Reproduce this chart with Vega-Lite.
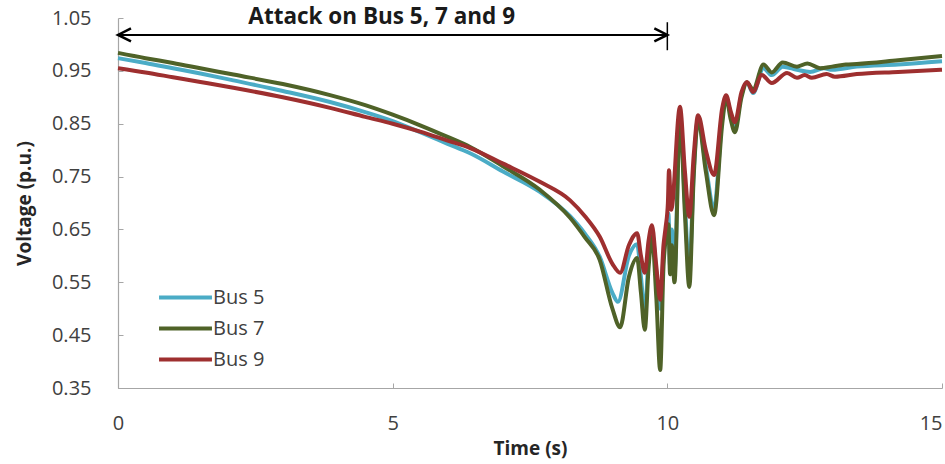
{
  "$schema": "https://vega.github.io/schema/vega-lite/v6.json",
  "width": 824,
  "height": 370,
  "autosize": {"type": "none"},
  "padding": {"left": 118, "top": 18, "right": 3, "bottom": 76},
  "background": "white",
  "config": {
    "view": {"stroke": null},
    "font": "Open Sans",
    "axis": {
      "grid": false,
      "labelFont": "Open Sans",
      "labelFontSize": 20,
      "labelColor": "#404040",
      "labelFlush": false,
      "domainColor": "#A6A6A6",
      "tickColor": "#A6A6A6",
      "domainWidth": 1.2,
      "tickSize": -5,
      "titleFont": "Open Sans",
      "titleFontSize": 19,
      "titleFontWeight": "bold",
      "titleColor": "#262626"
    },
    "legend": {
      "orient": "none",
      "legendX": 52,
      "legendY": 264,
      "padding": 0,
      "labelFont": "Open Sans",
      "labelFontSize": 20,
      "labelColor": "#404040",
      "symbolType": "M-2,0H2",
      "symbolSize": 700,
      "symbolStrokeWidth": 4,
      "symbolFillColor": "transparent",
      "rowPadding": 5,
      "labelOffset": 12
    }
  },
  "datasets": {
    "volt": [
      {"s":"Bus 5","t":0,"v":0.974},{"s":"Bus 5","t":0.5,"v":0.965},{"s":"Bus 5","t":1,"v":0.955},{"s":"Bus 5","t":1.5,"v":0.945},{"s":"Bus 5","t":2.1,"v":0.932},{"s":"Bus 5","t":3,"v":0.912},{"s":"Bus 5","t":3.86,"v":0.891},{"s":"Bus 5","t":4.5,"v":0.872},{"s":"Bus 5","t":5,"v":0.855},{"s":"Bus 5","t":5.5,"v":0.834},{"s":"Bus 5","t":6,"v":0.812},{"s":"Bus 5","t":6.41,"v":0.794},{"s":"Bus 5","t":7,"v":0.76},{"s":"Bus 5","t":7.68,"v":0.721},{"s":"Bus 5","t":8.23,"v":0.675},{"s":"Bus 5","t":8.5,"v":0.642},{"s":"Bus 5","t":8.77,"v":0.598},{"s":"Bus 5","t":9.0,"v":0.53},{"s":"Bus 5","t":9.1,"v":0.513},{"s":"Bus 5","t":9.3,"v":0.6},{"s":"Bus 5","t":9.45,"v":0.622},{"s":"Bus 5","t":9.52,"v":0.56},{"s":"Bus 5","t":9.59,"v":0.49},{"s":"Bus 5","t":9.66,"v":0.6},{"s":"Bus 5","t":9.72,"v":0.645},{"s":"Bus 5","t":9.8,"v":0.57},{"s":"Bus 5","t":9.87,"v":0.5},{"s":"Bus 5","t":9.93,"v":0.6},{"s":"Bus 5","t":9.98,"v":0.65},{"s":"Bus 5","t":10.02,"v":0.68},{"s":"Bus 5","t":10.05,"v":0.58},{"s":"Bus 5","t":10.08,"v":0.65},{"s":"Bus 5","t":10.13,"v":0.57},{"s":"Bus 5","t":10.23,"v":0.87},{"s":"Bus 5","t":10.32,"v":0.7},{"s":"Bus 5","t":10.4,"v":0.57},{"s":"Bus 5","t":10.48,"v":0.76},{"s":"Bus 5","t":10.56,"v":0.86},{"s":"Bus 5","t":10.7,"v":0.77},{"s":"Bus 5","t":10.85,"v":0.69},{"s":"Bus 5","t":11.0,"v":0.86},{"s":"Bus 5","t":11.07,"v":0.9},{"s":"Bus 5","t":11.15,"v":0.87},{"s":"Bus 5","t":11.23,"v":0.844},{"s":"Bus 5","t":11.35,"v":0.905},{"s":"Bus 5","t":11.45,"v":0.928},{"s":"Bus 5","t":11.56,"v":0.908},{"s":"Bus 5","t":11.75,"v":0.955},{"s":"Bus 5","t":11.9,"v":0.942},{"s":"Bus 5","t":12.1,"v":0.958},{"s":"Bus 5","t":12.36,"v":0.952},{"s":"Bus 5","t":12.6,"v":0.948},{"s":"Bus 5","t":12.85,"v":0.955},{"s":"Bus 5","t":13.0,"v":0.952},{"s":"Bus 5","t":13.45,"v":0.958},{"s":"Bus 5","t":14.2,"v":0.962},{"s":"Bus 5","t":15,"v":0.968},
      {"s":"Bus 7","t":0,"v":0.984},{"s":"Bus 7","t":0.5,"v":0.974},{"s":"Bus 7","t":1,"v":0.965},{"s":"Bus 7","t":1.5,"v":0.955},{"s":"Bus 7","t":2.1,"v":0.943},{"s":"Bus 7","t":3,"v":0.925},{"s":"Bus 7","t":3.86,"v":0.904},{"s":"Bus 7","t":4.5,"v":0.885},{"s":"Bus 7","t":5,"v":0.867},{"s":"Bus 7","t":5.5,"v":0.847},{"s":"Bus 7","t":6,"v":0.825},{"s":"Bus 7","t":6.41,"v":0.806},{"s":"Bus 7","t":7,"v":0.77},{"s":"Bus 7","t":7.68,"v":0.725},{"s":"Bus 7","t":8.23,"v":0.672},{"s":"Bus 7","t":8.5,"v":0.635},{"s":"Bus 7","t":8.77,"v":0.592},{"s":"Bus 7","t":9.0,"v":0.5},{"s":"Bus 7","t":9.14,"v":0.465},{"s":"Bus 7","t":9.3,"v":0.56},{"s":"Bus 7","t":9.45,"v":0.596},{"s":"Bus 7","t":9.52,"v":0.53},{"s":"Bus 7","t":9.59,"v":0.46},{"s":"Bus 7","t":9.66,"v":0.58},{"s":"Bus 7","t":9.72,"v":0.636},{"s":"Bus 7","t":9.8,"v":0.52},{"s":"Bus 7","t":9.87,"v":0.384},{"s":"Bus 7","t":9.93,"v":0.58},{"s":"Bus 7","t":9.98,"v":0.64},{"s":"Bus 7","t":10.02,"v":0.66},{"s":"Bus 7","t":10.05,"v":0.565},{"s":"Bus 7","t":10.08,"v":0.62},{"s":"Bus 7","t":10.13,"v":0.55},{"s":"Bus 7","t":10.23,"v":0.863},{"s":"Bus 7","t":10.32,"v":0.68},{"s":"Bus 7","t":10.4,"v":0.541},{"s":"Bus 7","t":10.48,"v":0.75},{"s":"Bus 7","t":10.56,"v":0.857},{"s":"Bus 7","t":10.7,"v":0.76},{"s":"Bus 7","t":10.85,"v":0.677},{"s":"Bus 7","t":11.0,"v":0.85},{"s":"Bus 7","t":11.07,"v":0.9},{"s":"Bus 7","t":11.15,"v":0.86},{"s":"Bus 7","t":11.23,"v":0.834},{"s":"Bus 7","t":11.35,"v":0.9},{"s":"Bus 7","t":11.45,"v":0.928},{"s":"Bus 7","t":11.56,"v":0.915},{"s":"Bus 7","t":11.75,"v":0.962},{"s":"Bus 7","t":11.9,"v":0.947},{"s":"Bus 7","t":12.1,"v":0.966},{"s":"Bus 7","t":12.36,"v":0.958},{"s":"Bus 7","t":12.55,"v":0.964},{"s":"Bus 7","t":12.78,"v":0.955},{"s":"Bus 7","t":13.0,"v":0.958},{"s":"Bus 7","t":13.25,"v":0.962},{"s":"Bus 7","t":13.45,"v":0.963},{"s":"Bus 7","t":14.2,"v":0.97},{"s":"Bus 7","t":15,"v":0.978},
      {"s":"Bus 9","t":0,"v":0.955},{"s":"Bus 9","t":0.5,"v":0.947},{"s":"Bus 9","t":1,"v":0.938},{"s":"Bus 9","t":1.5,"v":0.929},{"s":"Bus 9","t":2.1,"v":0.918},{"s":"Bus 9","t":3,"v":0.9},{"s":"Bus 9","t":3.86,"v":0.88},{"s":"Bus 9","t":4.5,"v":0.863},{"s":"Bus 9","t":5,"v":0.85},{"s":"Bus 9","t":5.5,"v":0.835},{"s":"Bus 9","t":6,"v":0.818},{"s":"Bus 9","t":6.41,"v":0.804},{"s":"Bus 9","t":7,"v":0.775},{"s":"Bus 9","t":7.68,"v":0.74},{"s":"Bus 9","t":8.23,"v":0.705},{"s":"Bus 9","t":8.5,"v":0.675},{"s":"Bus 9","t":8.77,"v":0.636},{"s":"Bus 9","t":9.0,"v":0.585},{"s":"Bus 9","t":9.14,"v":0.568},{"s":"Bus 9","t":9.3,"v":0.62},{"s":"Bus 9","t":9.45,"v":0.643},{"s":"Bus 9","t":9.52,"v":0.6},{"s":"Bus 9","t":9.59,"v":0.568},{"s":"Bus 9","t":9.66,"v":0.63},{"s":"Bus 9","t":9.72,"v":0.658},{"s":"Bus 9","t":9.8,"v":0.58},{"s":"Bus 9","t":9.87,"v":0.517},{"s":"Bus 9","t":9.93,"v":0.62},{"s":"Bus 9","t":9.97,"v":0.655},{"s":"Bus 9","t":10.01,"v":0.7},{"s":"Bus 9","t":10.03,"v":0.762},{"s":"Bus 9","t":10.07,"v":0.687},{"s":"Bus 9","t":10.23,"v":0.882},{"s":"Bus 9","t":10.32,"v":0.76},{"s":"Bus 9","t":10.4,"v":0.674},{"s":"Bus 9","t":10.48,"v":0.79},{"s":"Bus 9","t":10.56,"v":0.866},{"s":"Bus 9","t":10.7,"v":0.8},{"s":"Bus 9","t":10.85,"v":0.753},{"s":"Bus 9","t":11.0,"v":0.88},{"s":"Bus 9","t":11.07,"v":0.904},{"s":"Bus 9","t":11.15,"v":0.875},{"s":"Bus 9","t":11.23,"v":0.853},{"s":"Bus 9","t":11.35,"v":0.91},{"s":"Bus 9","t":11.45,"v":0.929},{"s":"Bus 9","t":11.56,"v":0.91},{"s":"Bus 9","t":11.72,"v":0.942},{"s":"Bus 9","t":11.9,"v":0.927},{"s":"Bus 9","t":12.18,"v":0.946},{"s":"Bus 9","t":12.36,"v":0.937},{"s":"Bus 9","t":12.5,"v":0.942},{"s":"Bus 9","t":12.63,"v":0.937},{"s":"Bus 9","t":12.9,"v":0.944},{"s":"Bus 9","t":13.05,"v":0.939},{"s":"Bus 9","t":13.45,"v":0.944},{"s":"Bus 9","t":14.2,"v":0.948},{"s":"Bus 9","t":15,"v":0.952}
    ]
  },
  "encoding": {
    "x": {"field": "t", "type": "quantitative", "scale": {"domain": [0, 15], "nice": false, "zero": false},
      "axis": {"values": [0, 5, 10, 15], "format": "d", "title": "Time (s)", "labelPadding": 30, "titlePadding": 6,
        "labelAlign": {"expr": "datum.value == 15 ? 'right' : 'center'"}}},
    "y": {"field": "v", "type": "quantitative", "scale": {"domain": [0.35, 1.05], "nice": false, "zero": false},
      "axis": {"values": [0.35, 0.45, 0.55, 0.65, 0.75, 0.85, 0.95, 1.05], "format": ".2f", "title": "Voltage (p.u.)", "labelPadding": 32, "titlePadding": 17}}
  },
  "layer": [
    {
      "data": {"name": "volt"},
      "mark": {"type": "line", "strokeWidth": 4, "interpolate": "monotone"},
      "encoding": {
        "color": {"field": "s", "type": "nominal", "title": null,
          "scale": {"domain": ["Bus 5", "Bus 7", "Bus 9"], "range": ["#4BACC6", "#4F6228", "#9E2F2F"]}}
      }
    },
    {
      "data": {"values": [{"t": 0, "t2": 10, "v": 1.018}]},
      "mark": {"type": "rule", "color": "black", "strokeWidth": 2},
      "encoding": {"x2": {"field": "t2"}}
    },
    {
      "data": {"values": [{"t": 10, "v": 1.042, "v2": 0.989}]},
      "mark": {"type": "rule", "color": "black", "strokeWidth": 1.5},
      "encoding": {"y2": {"field": "v2"}}
    },
    {
      "data": {"values": [{"t": 0, "v": 1.018}]},
      "mark": {"type": "point", "shape": "M2,-1L0,0L2,1", "size": 169, "filled": false, "color": "black", "strokeWidth": 2.5, "opacity": 1}
    },
    {
      "data": {"values": [{"t": 10, "v": 1.018}]},
      "mark": {"type": "point", "shape": "M-2,-1L0,0L-2,1", "size": 169, "filled": false, "color": "black", "strokeWidth": 2.5, "opacity": 1}
    },
    {
      "data": {"values": [{"t": 4.8, "v": 1.051, "label": "Attack on Bus 5, 7 and 9"}]},
      "mark": {"type": "text", "font": "Open Sans", "fontSize": 22.5, "fontWeight": "bold", "color": "#1a1a1a", "baseline": "middle", "align": "center"},
      "encoding": {"text": {"field": "label"}}
    }
  ]
}
